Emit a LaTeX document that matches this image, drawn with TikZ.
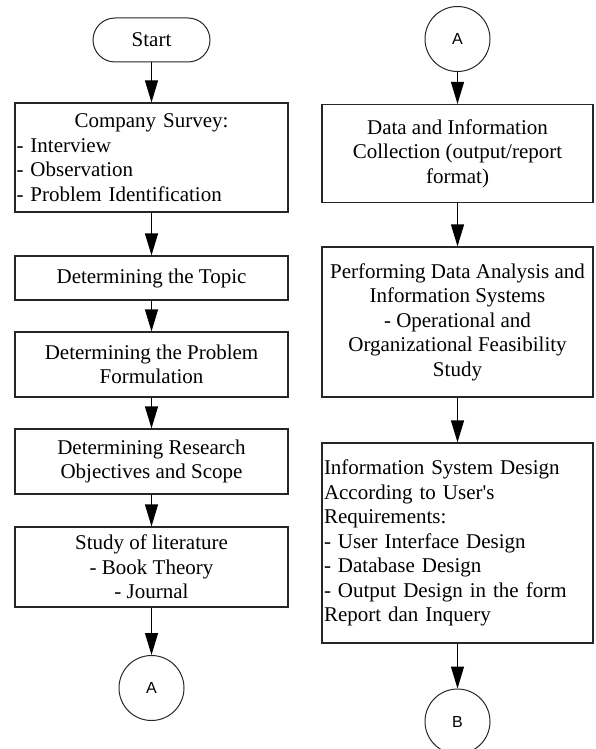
\documentclass[tikz,border=0pt]{standalone}
\usepackage{fontspec}
\setmainfont{Liberation Serif}
\newfontfamily\labsans{Liberation Sans}
\usetikzlibrary{arrows.meta}
\begin{document}
\begin{tikzpicture}[x=1pt,y=-1pt,
  boxL/.style={draw=black!85,line width=1.2pt,rectangle,minimum width=273pt,inner sep=0pt,
    font=\fontsize{21}{24.5}\selectfont},
  boxR/.style={draw=black!85,line width=1.2pt,rectangle,minimum width=271pt,inner sep=0pt,
    font=\fontsize{21}{24.5}\selectfont},
  term/.style={draw=black!85,line width=1pt,rounded corners=22pt,minimum width=117pt,minimum height=44pt,
    font=\fontsize{21}{24.5}\selectfont},
  conn/.style={draw=black!85,line width=1pt,circle,minimum size=65pt,inner sep=0pt,
    font=\labsans\fontsize{16}{19}\selectfont},
  arr/.style={line width=1.2pt,-{Triangle[length=22pt,width=13pt]}}
]
\useasboundingbox (0,0) rectangle (595,749);
% left column
\node[term] (start) at (151.5,40) {Start};
\node[boxL,minimum height=109pt,text width=270pt,align=left] (cs) at (151.5,157.5)
  {\parbox{270pt}{\centering Company Survey:}\\- Interview\\- Observation\\- Problem Identification};
\node[boxL,minimum height=44pt,align=center] (topic) at (151.5,278) {Determining the Topic};
\node[boxL,minimum height=65pt,align=center] (form) at (151.5,364.5) {Determining the Problem\\Formulation};
\node[boxL,minimum height=65pt,align=center] (obj) at (151.5,461.5) {Determining Research\\Objectives and Scope};
\node[boxL,minimum height=80pt,align=center] (lit) at (151.5,567) {Study of literature\\- Book Theory\\- Journal};
\node[conn] (a1) at (151.5,688) {A};
% right column
\node[conn] (a2) at (457.5,39) {A};
\node[boxR,minimum height=98pt,align=center] (data) at (457.5,153.5) {Data and Information\\Collection (output/report\\format)};
\node[boxR,minimum height=150pt,align=center] (perf) at (457.5,322) {Performing Data Analysis and\\Information Systems\\- Operational and\\Organizational Feasibility\\Study};
\node[boxR,minimum height=200pt,text width=267pt,align=left] (des) at (457.5,543) {Information System Design\\According to User\textquotesingle s\\Requirements:\\- User Interface Design\\- Database Design\\- Output Design in the form\\Report dan Inquery};
\node[conn] (b) at (457.5,721.5) {B};
% connectors
\draw[arr] (start) -- (cs);
\draw[arr] (cs) -- (topic);
\draw[arr] (topic) -- (form);
\draw[arr] (form) -- (obj);
\draw[arr] (obj) -- (lit);
\draw[arr] (lit) -- (a1);
\draw[arr] (a2) -- (data);
\draw[arr] (data) -- (perf);
\draw[arr] (perf) -- (des);
\draw[arr] (des) -- (b);
\end{tikzpicture}
\end{document}
